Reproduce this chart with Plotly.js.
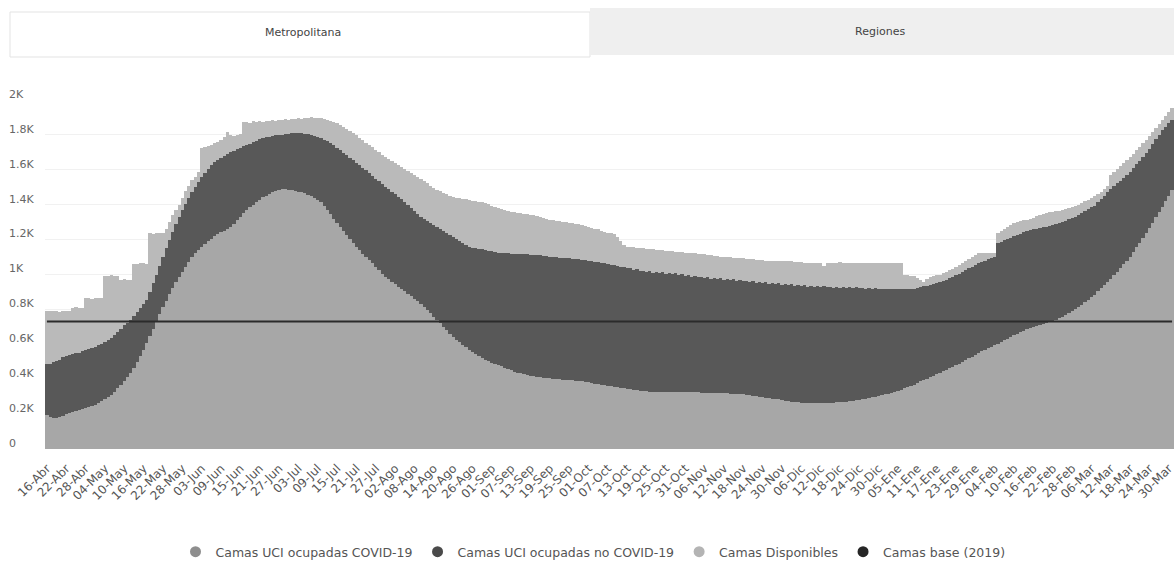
<!DOCTYPE html>
<html><head><meta charset="utf-8">
<script src="https://cdn.plot.ly/plotly-3.0.1.min.js"></script>
<style>html,body{margin:0;padding:0;background:#fff;overflow:hidden}#chart{width:1174px;height:570px}</style>
</head><body><div id="chart"></div>
<script>
// ---------- data ----------
const firstDay = {year: 2020, month: 3, day: 16}; // 16-Abr-2020 (month index 0-based)
const monthNames = ['Ene','Feb','Mar','Abr','May','Jun','Jul','Ago','Sep','Oct','Nov','Dic'];
const tickLabels = ['16-Abr','22-Abr','28-Abr','04-May','10-May','16-May','22-May','28-May','03-Jun','09-Jun','15-Jun','21-Jun','27-Jun','03-Jul','09-Jul','15-Jul','21-Jul','27-Jul','02-Ago','08-Ago','14-Ago','20-Ago','26-Ago','01-Sep','07-Sep','13-Sep','19-Sep','25-Sep','01-Oct','07-Oct','13-Oct','19-Oct','25-Oct','31-Oct','06-Nov','12-Nov','18-Nov','24-Nov','30-Nov','06-Dic','12-Dic','18-Dic','24-Dic','30-Dic','05-Ene','11-Ene','17-Ene','23-Ene','29-Ene','04-Feb','10-Feb','16-Feb','22-Feb','28-Feb','06-Mar','12-Mar','18-Mar','24-Mar','30-Mar'];
const yTickVals = [0,200,400,600,800,1000,1200,1400,1600,1800,2000];
const yTickText = ['0','0.2K','0.4K','0.6K','0.8K','1K','1.2K','1.4K','1.6K','1.8K','2K'];

// Camas UCI ocupadas COVID-19 (daily)
const ocupadasCovid = [195,186,180,178,182,190,198,205,212,218,
224,229,235,240,246,252,262,273,285,298,
312,328,347,368,392,414,435,467,500,535,
570,607,650,690,735,775,814,850,888,920,
955,986,1015,1045,1072,1098,1123,1142,1160,1176,
1190,1205,1218,1230,1242,1252,1262,1272,1290,1310,
1330,1350,1370,1386,1400,1414,1428,1444,1452,1460,
1470,1478,1484,1488,1490,1486,1482,1478,1475,1470,
1465,1458,1452,1440,1428,1415,1392,1368,1344,1320,
1295,1272,1250,1226,1204,1181,1160,1140,1120,1102,
1083,1064,1044,1024,1005,986,972,958,944,931,
918,904,890,876,861,847,833,815,796,777,
758,739,720,700,680,661,642,627,612,597,
582,567,556,544,532,521,510,502,495,487,
480,473,466,458,450,442,438,435,430,426,
421,417,413,411,409,407,405,404,402,400,
398,396,395,393,391,389,387,385,382,379,
375,372,369,366,363,360,358,355,352,349,
346,343,340,337,334,331,330,329,329,328,
328,327,327,326,326,327,327,326,326,325,
325,324,324,323,323,322,322,321,321,320,
320,319,318,318,317,316,315,312,309,305,
301,298,296,294,292,289,287,284,280,277,
273,270,268,267,266,265,264,264,264,263,
263,263,264,265,266,267,268,269,271,273,
276,278,281,284,288,292,296,300,304,309,
313,318,322,328,334,341,347,353,360,369,
378,387,396,404,413,421,429,437,445,453,
462,471,480,490,499,509,519,530,540,550,
559,568,577,586,595,600,611,622,632,643,
653,661,669,677,685,693,699,705,711,716,
722,728,735,742,749,756,767,779,790,802,
814,828,842,856,870,885,903,921,939,957,
975,996,1017,1038,1059,1080,1100,1128,1155,1183,
1210,1238,1268,1298,1328,1357,1387,1420,1452,1484];

// Camas UCI ocupadas en total (COVID-19 + no COVID-19), daily
const ocupadasTotal = [485,490,497,503,512,527,532,537,542,548,
553,559,565,572,578,585,594,603,612,624,
635,652,670,690,708,724,739,760,783,807,
830,854,900,950,1000,1050,1100,1150,1195,1243,
1288,1330,1367,1402,1438,1470,1501,1528,1556,1582,
1607,1630,1645,1658,1670,1681,1692,1702,1710,1718,
1726,1734,1742,1750,1758,1766,1774,1782,1786,1790,
1794,1797,1800,1802,1804,1806,1809,1811,1810,1809,
1807,1805,1802,1795,1789,1782,1772,1763,1754,1740,
1725,1711,1697,1684,1670,1656,1641,1626,1612,1597,
1582,1566,1550,1534,1517,1501,1488,1474,1460,1446,
1432,1415,1398,1381,1364,1347,1330,1318,1307,1295,
1284,1272,1261,1249,1238,1226,1215,1204,1192,1181,
1169,1158,1154,1151,1147,1144,1140,1137,1133,1130,
1126,1123,1122,1121,1120,1119,1118,1117,1116,1115,
1114,1113,1112,1110,1107,1105,1102,1100,1098,1097,
1095,1094,1092,1090,1088,1087,1085,1083,1080,1077,
1074,1071,1068,1064,1061,1057,1054,1050,1045,1041,
1036,1040,1027,1031,1018,1022,1013,1019,1010,1014,
1007,1012,1004,1009,1001,1006,997,1001,992,996,
986,992,983,988,980,985,977,982,974,979,
971,976,967,972,963,969,960,965,956,962,
953,958,950,955,947,952,944,950,941,946,
938,943,935,940,932,937,929,934,928,933,
927,932,926,930,925,929,924,928,923,927,
922,927,922,925,919,923,916,920,915,919,
915,919,915,918,915,919,915,917,915,919,
923,927,932,936,940,946,952,957,963,969,
978,987,996,1005,1014,1024,1035,1045,1056,1066,
1073,1080,1087,1093,1100,1181,1189,1197,1204,1212,
1220,1227,1234,1241,1248,1255,1259,1263,1267,1271,
1275,1280,1285,1291,1296,1301,1309,1317,1324,1332,
1340,1351,1362,1373,1384,1395,1414,1433,1452,1471,
1490,1506,1522,1538,1555,1571,1587,1609,1631,1652,
1674,1696,1722,1749,1775,1802,1828,1847,1866,1885];

// Camas UCI totales (ocupadas + disponibles), daily
const camasTotales = [788,790,792,790,786,790,793,790,810,812,
810,808,864,866,862,865,868,866,990,992,
995,993,990,970,972,968,971,1060,1062,1066,
1064,1060,1235,1232,1236,1240,1238,1260,1300,1340,
1370,1400,1440,1480,1510,1540,1560,1590,1725,1730,
1738,1745,1752,1760,1770,1788,1815,1800,1795,1800,
1805,1872,1876,1870,1878,1874,1880,1876,1882,1878,
1885,1880,1888,1884,1890,1886,1894,1890,1897,1892,
1899,1895,1900,1896,1898,1897,1893,1888,1882,1875,
1868,1858,1847,1835,1823,1811,1797,1784,1770,1756,
1742,1728,1714,1700,1687,1673,1662,1650,1638,1626,
1615,1604,1593,1582,1571,1560,1550,1537,1523,1510,
1497,1484,1476,1468,1460,1452,1444,1441,1437,1434,
1430,1427,1424,1420,1417,1413,1410,1403,1395,1388,
1380,1373,1369,1365,1360,1356,1352,1350,1347,1345,
1342,1340,1334,1329,1323,1318,1312,1310,1307,1305,
1302,1300,1297,1294,1290,1287,1284,1279,1273,1268,
1263,1258,1252,1246,1240,1238,1232,1215,1190,1170,
1158,1157,1156,1154,1152,1150,1148,1146,1144,1142,
1140,1138,1136,1134,1132,1130,1129,1127,1126,1124,
1123,1121,1119,1117,1115,1113,1111,1108,1106,1103,
1101,1100,1098,1097,1095,1094,1092,1090,1088,1087,
1085,1083,1081,1080,1078,1077,1075,1075,1075,1075,
1075,1075,1074,1072,1070,1068,1067,1066,1066,1066,
1066,1048,1066,1068,1064,1066,1069,1065,1066,1068,
1066,1064,1067,1066,1068,1065,1066,1067,1064,1066,
1068,1066,1065,1067,1066,1066,997,995,992,990,
980,968,957,975,985,990,995,1000,1008,1014,
1024,1034,1045,1055,1066,1078,1089,1100,1111,1123,
1123,1124,1122,1125,1123,1238,1250,1262,1273,1284,
1295,1300,1305,1310,1315,1320,1326,1333,1339,1346,
1352,1356,1359,1363,1366,1370,1376,1381,1387,1392,
1398,1408,1419,1429,1440,1450,1462,1475,1490,1505,
1570,1587,1604,1621,1639,1656,1673,1693,1712,1732,
1751,1771,1794,1817,1839,1862,1885,1908,1931,1954];

const camasBase2019 = 730;

const seriesNames = ['Camas UCI ocupadas COVID-19','Camas UCI ocupadas no COVID-19','Camas Disponibles','Camas base (2019)'];
const barColors = ['#a7a7a7','#585858','#bababa'];
const lineColor = '#2b2b2b';
const legendColors = ['#8e8e8e','#4a4a4a','#b4b4b4','#262626'];

// ---------- build ----------
const days = ocupadasCovid.map((_, i) => {
  const d = new Date(Date.UTC(firstDay.year, firstDay.month, firstDay.day + i));
  return String(d.getUTCDate()).padStart(2,'0') + '-' + monthNames[d.getUTCMonth()];
});
const noCovid = ocupadasTotal.map((v, i) => v - ocupadasCovid[i]);
const disponibles = camasTotales.map((v, i) => v - ocupadasTotal[i]);

const W = 1174, H = 570, ML = 5, MT = 100, MB = 121, PLOT_LEFT = 45;
const plotW = W - ML, plotH = H - MT - MB;
const px = x => (x - ML) / plotW;           // page px -> paper x
const py = y => (H - MB - y) / plotH;       // page px -> paper y

const traces = [
  {type:'bar', name:seriesNames[0], x:days, y:ocupadasCovid, marker:{color:barColors[0], line:{width:0}}, showlegend:false},
  {type:'bar', name:seriesNames[1], x:days, y:noCovid, marker:{color:barColors[1], line:{width:0}}, showlegend:false},
  {type:'bar', name:seriesNames[2], x:days, y:disponibles, marker:{color:barColors[2], line:{width:0}}, showlegend:false},
  {type:'scatter', mode:'lines', name:seriesNames[3], x:[days[0], days[days.length-1]], y:[camasBase2019, camasBase2019],
   line:{color:lineColor, width:2}, showlegend:false}
];
seriesNames.forEach((n, k) => traces.push({
  type:'scatter', mode:'markers', name:n, x:[null], y:[null],
  marker:{symbol:'circle', size:11, color:legendColors[k]}, showlegend:true, hoverinfo:'skip'
}));

const layout = {
  width:W, height:H,
  margin:{l:ML, r:0, t:MT, b:MB, pad:0},
  paper_bgcolor:'#ffffff', plot_bgcolor:'#ffffff',
  barmode:'stack', bargap:0,
  font:{family:'DejaVu Sans, Roboto, sans-serif', color:'#555'},
  xaxis:{
    type:'category', categoryorder:'array', categoryarray:days,
    domain:[px(PLOT_LEFT), 1], range:[-0.6, days.length - 0.4],
    tickmode:'array', tickvals:tickLabels, ticktext:tickLabels, tickangle:-45,
    ticklabelstandoff:9,
    tickfont:{family:'DejaVu Sans, sans-serif', size:12, color:'#555'},
    showgrid:false, zeroline:false, showline:false, ticks:''
  },
  yaxis:{
    range:[0, 2000], tickmode:'array', tickvals:yTickVals, ticktext:yTickText,
    anchor:'free', position:0, ticklabelposition:'inside', ticklabelshift:-6,
    ticklabeloverflow:'allow',
    tickfont:{family:'DejaVu Sans, sans-serif', size:11, color:'#666'},
    showgrid:true, gridcolor:'#f1f1f1', zeroline:false, showline:false, ticks:''
  },
  legend:{orientation:'h', traceorder:'normal', x:px(593), xanchor:'center', y:py(552), yanchor:'middle',
    font:{family:'DejaVu Sans, sans-serif', size:12.5, color:'#555'}, itemclick:false},
  shapes:[
    {type:'rect', xref:'paper', yref:'paper', x0:px(10), x1:px(590), y0:py(57), y1:py(12),
     fillcolor:'#ffffff', line:{color:'#e3e3e3', width:1}, layer:'below'},
    {type:'rect', xref:'paper', yref:'paper', x0:px(590), x1:px(1174), y0:py(55), y1:py(8),
     fillcolor:'#efefef', line:{width:0}, layer:'below'}
  ],
  annotations:[
    {text:'Metropolitana', xref:'paper', yref:'paper', x:px(303), y:py(33), xanchor:'center', yanchor:'middle', showarrow:false,
     font:{family:'DejaVu Sans, sans-serif', size:11, color:'#444'}},
    {text:'Regiones', xref:'paper', yref:'paper', x:px(880), y:py(32), xanchor:'center', yanchor:'middle', showarrow:false,
     font:{family:'DejaVu Sans, sans-serif', size:11, color:'#444'}}
  ]
};

Plotly.newPlot('chart', traces, layout, {displayModeBar:false, staticPlot:true});
</script>
</body></html>
